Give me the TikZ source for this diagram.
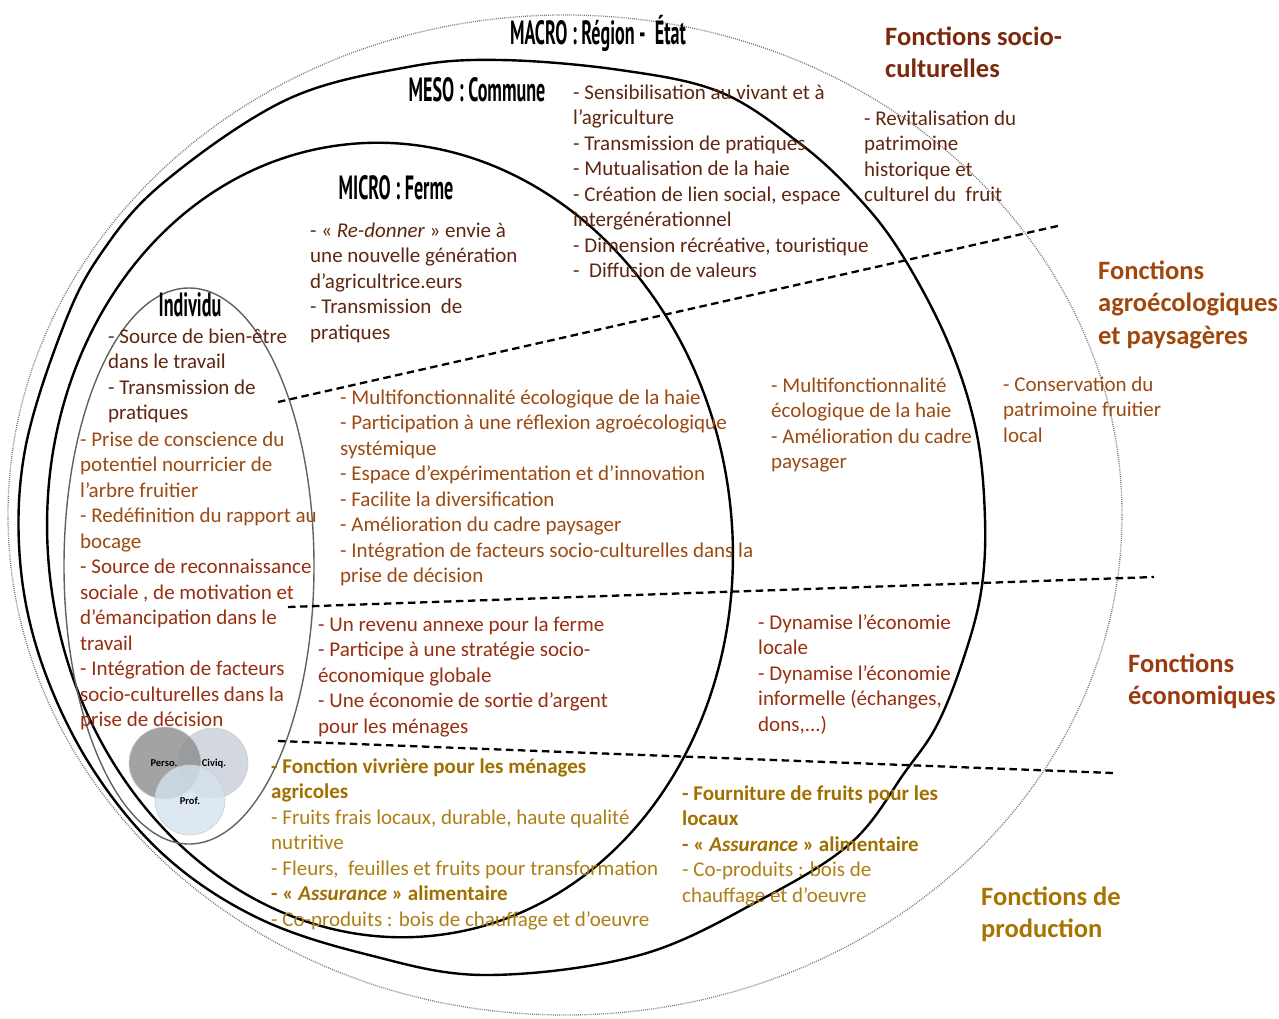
\documentclass[tikz,border=0pt]{standalone}
\usepackage{fontspec}
\usepackage{graphicx}
\setmainfont{Carlito}
\newfontfamily\condf{PT Sans}
\definecolor{socioT}{HTML}{5E2610}
\definecolor{agroT}{HTML}{9A4A12}
\definecolor{ecoT}{HTML}{962E10}
\definecolor{prodT}{HTML}{AD7E14}
\definecolor{prodB}{HTML}{A06F00}
\definecolor{socioH}{HTML}{7A2A0C}
\definecolor{agroH}{HTML}{A0480C}
\definecolor{ecoH}{HTML}{9A3A10}
\definecolor{prodH}{HTML}{A87400}
\definecolor{persoC}{HTML}{8C8C8C}
\definecolor{civiqC}{HTML}{C8CED8}
\definecolor{profC}{HTML}{D5E2EF}
\newcommand{\lst}[1]{\begin{tabular}[t]{@{}l@{}}#1\end{tabular}}
\begin{document}
\begin{tikzpicture}[x=1pt,y=-1pt,
  txt/.style={anchor=base west, inner sep=0pt, font=\fontsize{21}{25.5}\selectfont},
  head/.style={anchor=base west, inner sep=0pt, font=\fontsize{26.5}{32.5}\selectfont\bfseries},
  lvl/.style={inner sep=0pt, font=\condf\bfseries\fontsize{32}{34}\selectfont},
  ring/.style={line width=2.4pt, black},
  outerring/.style={line width=1.3pt, black!55, dash pattern=on 0.9pt off 1.2pt},
  sepline/.style={line width=2.3pt, dash pattern=on 7.5pt off 4.5pt},
  venn/.style={draw=white!80!black, line width=0.6pt, fill opacity=0.8},
  vlab/.style={inner sep=0pt, font=\fontsize{10.5}{12}\selectfont\bfseries}]
\useasboundingbox (0,0) rectangle (1279,1018);

% MACRO dotted ring
\draw[outerring] (565,515) ellipse [x radius=557, y radius=500];

% MESO ring
\draw[ring] plot[smooth cycle, tension=0.6] coordinates {
 (500,60) (620,70) (720,92) (798,142) (853,192) (899,250) (947,340) (976,430)
 (985,519) (981,592) (963,660) (937,725) (905,772) (852,842) (762,899) (640,955)
 (486,975) (369,955) (258,918) (165,856) (92,768) (42,664) (20,560) (25,450)
 (62,330) (100,255) (163,183) (286,100) (408,67)};

% MICRO ring
\draw[ring, rotate around={7:(390,540)}] (390,540) ellipse [x radius=342, y radius=398];

% Individu ellipse
\draw[line width=1.4pt, black!62] (189,566) ellipse [x radius=125, y radius=278];

% separators
\coordinate (s1a) at (278,402); \coordinate (s1b) at (1062,225);
\coordinate (s2a) at (288,607); \coordinate (s2b) at (1154,577);
\coordinate (s3a) at (278,741); \coordinate (s3b) at (1113,773);
\draw[sepline] (s1a) -- (s1b);
\draw[sepline] (s2a) -- (s2b);
\draw[sepline] (s3a) -- (s3b);

% level labels
\node[lvl] (macro) at (598,33) {\scalebox{0.565}[1.05]{MACRO : Région -~~État}};
\node[lvl] (meso) at (477,90) {\scalebox{0.565}[1.05]{MESO : Commune}};
\node[lvl] (micro) at (396,188) {\scalebox{0.565}[1.05]{MICRO : Ferme}};
\node[lvl] (indiv) at (190,305) {\scalebox{0.565}[1.05]{Individu}};

% Venn
\fill[venn, fill=civiqC] (213,763) circle (35);
\fill[venn, fill=persoC] (165,763) circle (36);
\fill[venn, fill=profC] (190,800) circle (35);
\node[vlab] (perso) at (164,763) {Perso.};
\node[vlab] (civiq) at (214,764) {Civiq.};
\node[vlab] (prof) at (190,801) {Prof.};

% headings
\node[head, text=socioH] (hsoc) at (885,45) {\lst{Fonctions socio-\\culturelles}};
\node[head, text=agroH] (hagro) at (1098,279) {\lst{Fonctions\\agroécologiques\\et paysagères}};
\node[head, text=ecoH] (heco) at (1128,672) {\lst{Fonctions\\économiques}};
\node[head, text=prodH] (hprod) at (981,905) {\lst{Fonctions de\\production}};

% socio-cultural texts
\node[txt, text=socioT] (mesoSoc) at (573,99) {\lst{- Sensibilisation au vivant et à\\l’agriculture\\- Transmission de pratiques\\- Mutualisation de la haie\\- Création de lien social, espace\\intergénérationnel\\- Dimension récréative, touristique\\-~~Diffusion de valeurs}};
\node[txt, text=socioT] (macroSoc) at (864,125) {\lst{- Revitalisation du\\patrimoine\\historique et\\culturel du~~fruit}};
\node[txt, text=socioT] (microSoc) at (310,237) {\lst{- « \textit{Re-donner} » envie à\\une nouvelle génération\\d’agricultrice.eurs\\- Transmission~~de\\pratiques}};
\node[txt, text=socioT] (indSoc) at (108,343) {\lst{- Source de bien-être\\dans le travail\\- Transmission de\\pratiques}};
\node[txt, text=agroT] (indAgro) at (80,446) {\lst{- Prise de conscience du\\potentiel nourricier de\\l’arbre fruitier\\- Redéfinition du rapport au\\bocage}};
\node[txt, text=ecoT] (indEco) at (80,573.5) {\lst{- Source de reconnaissance\\sociale , de motivation et\\d’émancipation dans le\\travail\\- Intégration de facteurs\\socio-culturelles dans la\\prise de décision}};

% agro-ecological texts
\node[txt, text=agroT] (microAgro) at (340,404) {\lst{- Multifonctionnalité écologique de la haie\\- Participation à une réflexion agroécologique\\systémique\\- Espace d’expérimentation et d’innovation\\- Facilite la diversification\\- Amélioration du cadre paysager\\- Intégration de facteurs socio-culturelles dans la\\prise de décision}};
\node[txt, text=agroT] (mesoAgro) at (771,392) {\lst{- Multifonctionnalité\\écologique de la haie\\- Amélioration du cadre\\paysager}};
\node[txt, text=agroT] (macroAgro) at (1003,391) {\lst{- Conservation du\\patrimoine fruitier\\local}};

% economic texts
\node[txt, text=ecoT] (microEco) at (318,631) {\lst{- Un revenu annexe pour la ferme\\- Participe à une stratégie socio-\\économique globale\\- Une économie de sortie d’argent\\pour les ménages}};
\node[txt, text=ecoT] (mesoEco) at (758,629) {\lst{- Dynamise l’économie\\locale\\- Dynamise l’économie\\informelle (échanges,\\dons,...)}};

% production texts
\node[txt, text=prodT] (microProd) at (271,773) {\lst{\textcolor{prodB}{\bfseries - Fonction vivrière pour les ménages}\\\textcolor{prodB}{\bfseries agricoles}\\- Fruits frais locaux, durable, haute qualité\\nutritive\\- Fleurs,~~feuilles et fruits pour transformation\\\textcolor{prodB}{\bfseries - « \textit{Assurance} » alimentaire}\\- Co-produits : bois de chauffage et d’oeuvre}};
\node[txt, text=prodT] (mesoProd) at (682,800) {\lst{\textcolor{prodB}{\bfseries - Fourniture de fruits pour les}\\\textcolor{prodB}{\bfseries locaux}\\\textcolor{prodB}{\bfseries - « \textit{Assurance} » alimentaire}\\- Co-produits : bois de\\chauffage et d’oeuvre}};
\end{tikzpicture}
\end{document}
